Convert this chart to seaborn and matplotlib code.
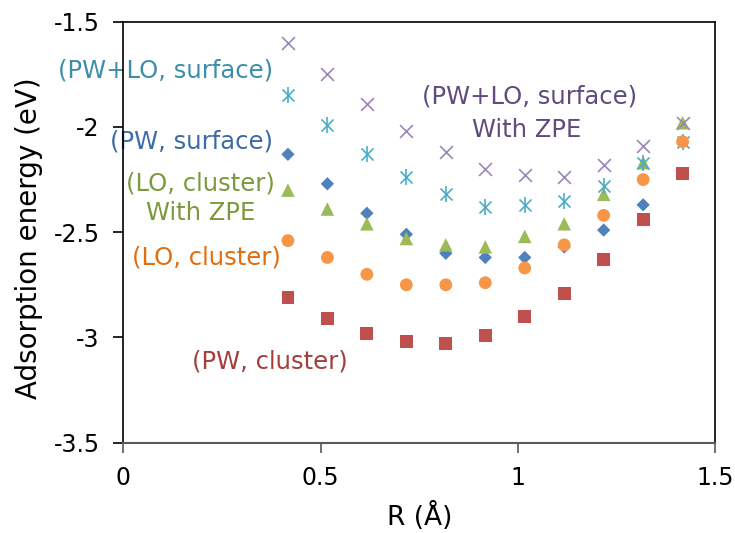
import matplotlib
matplotlib.use("Agg")
import matplotlib.pyplot as plt
import seaborn as sns
import pandas as pd

# distance R (Angstrom)
r_values = [0.417, 0.517, 0.617, 0.717, 0.817, 0.917, 1.017, 1.117, 1.217, 1.317, 1.417]

# adsorption energies (eV)
pw_surface = [-2.13, -2.27, -2.41, -2.51, -2.60, -2.62, -2.62, -2.57, -2.49, -2.37, -2.22]
pw_cluster = [-2.81, -2.91, -2.98, -3.02, -3.03, -2.99, -2.90, -2.79, -2.63, -2.44, -2.22]
lo_cluster_zpe = [-2.30, -2.39, -2.46, -2.53, -2.56, -2.57, -2.52, -2.46, -2.32, -2.17, -1.98]
pwlo_surface = [-1.85, -1.99, -2.13, -2.24, -2.32, -2.38, -2.37, -2.35, -2.28, -2.17, -2.07]
lo_cluster = [-2.54, -2.62, -2.70, -2.75, -2.75, -2.74, -2.67, -2.56, -2.42, -2.25, -2.07]
pwlo_surface_zpe = [-1.60, -1.75, -1.89, -2.02, -2.12, -2.20, -2.23, -2.24, -2.18, -2.09, -1.98]

x_ticks = [0, 0.5, 1, 1.5]
y_ticks = [-3.5, -3, -2.5, -2, -1.5]
x_tick_labels = ["0", "0.5", "1", "1.5"]
y_tick_labels = ["-3.5", "-3", "-2.5", "-2", "-1.5"]

sns.set_style("white")
plt.rcParams["font.family"] = ["DejaVu Sans"]
plt.rcParams["axes.unicode_minus"] = False
plt.rcParams["text.color"] = "black"
plt.rcParams["axes.labelcolor"] = "black"
plt.rcParams["xtick.color"] = "black"
plt.rcParams["ytick.color"] = "black"

df = pd.DataFrame({
    "R": r_values,
    "pw_surface": pw_surface,
    "pw_cluster": pw_cluster,
    "lo_cluster_zpe": lo_cluster_zpe,
    "pwlo_surface": pwlo_surface,
    "lo_cluster": lo_cluster,
    "pwlo_surface_zpe": pwlo_surface_zpe,
})

fig, ax = plt.subplots(figsize=(7.35, 5.33), dpi=100)
fig.subplots_adjust(left=0.1678, right=0.9733, bottom=0.1694, top=0.9593)

# series: column, marker, size, color
sns.scatterplot(data=df, x="R", y="pw_surface", marker="D", s=46, color="#4F81BD",
                edgecolor="none", ax=ax, zorder=3)
sns.scatterplot(data=df, x="R", y="pw_cluster", marker="s", s=85, color="#C0504D",
                edgecolor="none", ax=ax, zorder=3)
sns.scatterplot(data=df, x="R", y="lo_cluster_zpe", marker="^", s=95, color="#9BBB59",
                edgecolor="none", ax=ax, zorder=3)
# asterisk = x plus vertical bar
sns.scatterplot(data=df, x="R", y="pwlo_surface", marker="x", s=75, color="#4BACC6",
                linewidth=1.2, ax=ax, zorder=3)
sns.scatterplot(data=df, x="R", y="pwlo_surface", marker="|", s=120, color="#4BACC6",
                linewidth=1.2, ax=ax, zorder=3)
sns.scatterplot(data=df, x="R", y="lo_cluster", marker="o", s=85, color="#F79646",
                edgecolor="none", ax=ax, zorder=3)
sns.scatterplot(data=df, x="R", y="pwlo_surface_zpe", marker="x", s=85, color="#9A86B8",
                linewidth=1.2, ax=ax, zorder=3)

ax.set_xlim(0, 1.5)
ax.set_ylim(-3.5, -1.5)
ax.set_xticks(x_ticks)
ax.set_xticklabels(x_tick_labels)
ax.set_yticks(y_ticks)
ax.set_yticklabels(y_tick_labels)

ax.tick_params(axis="y", direction="out", length=7, width=1.2, color="black",
               labelcolor="black", pad=10, labelsize=17, left=True)
ax.tick_params(axis="x", direction="out", length=7, width=1.2, color="#595959",
               labelcolor="black", pad=10, labelsize=17, bottom=True)

for side in ["left", "top", "right"]:
    ax.spines[side].set_color("black")
    ax.spines[side].set_linewidth(1.2)
ax.spines["bottom"].set_color("#595959")
ax.spines["bottom"].set_linewidth(1.5)

ax.set_xlabel("R (Å)", fontsize=19, color="black")
ax.set_ylabel("Adsorption energy (eV)", fontsize=20, color="black")
ax.xaxis.set_label_coords(0.5, -0.14)
ax.yaxis.set_label_coords(-0.136, 0.486)

# series labels
fs = 17.5
ax.text(0.108, -1.73, "(PW+LO, surface)", color="#3B8FA8", fontsize=fs,
        ha="center", va="center", zorder=2, clip_on=False)
ax.text(0.172, -2.07, "(PW, surface)", color="#3D6BA5", fontsize=fs,
        ha="center", va="center", zorder=2, clip_on=False)
ax.text(0.195, -2.27, "(LO, cluster)", color="#7A9A3C", fontsize=fs,
        ha="center", va="center", zorder=2, clip_on=False)
ax.text(0.195, -2.41, "With ZPE", color="#7A9A3C", fontsize=fs,
        ha="center", va="center", zorder=2, clip_on=False)
ax.text(0.21, -2.618, "(LO, cluster)", color="#E46C0A", fontsize=fs,
        ha="center", va="center", zorder=2, clip_on=False)
ax.text(0.372, -3.114, "(PW, cluster)", color="#A33E3B", fontsize=fs,
        ha="center", va="center", zorder=2, clip_on=False)
ax.text(1.028, -1.856, "(PW+LO, surface)", color="#5F4B7E", fontsize=fs,
        ha="center", va="center", zorder=2)
ax.text(1.023, -2.014, "With ZPE", color="#5F4B7E", fontsize=fs,
        ha="center", va="center", zorder=2)

fig.savefig("out.png", dpi=100, facecolor="white")
